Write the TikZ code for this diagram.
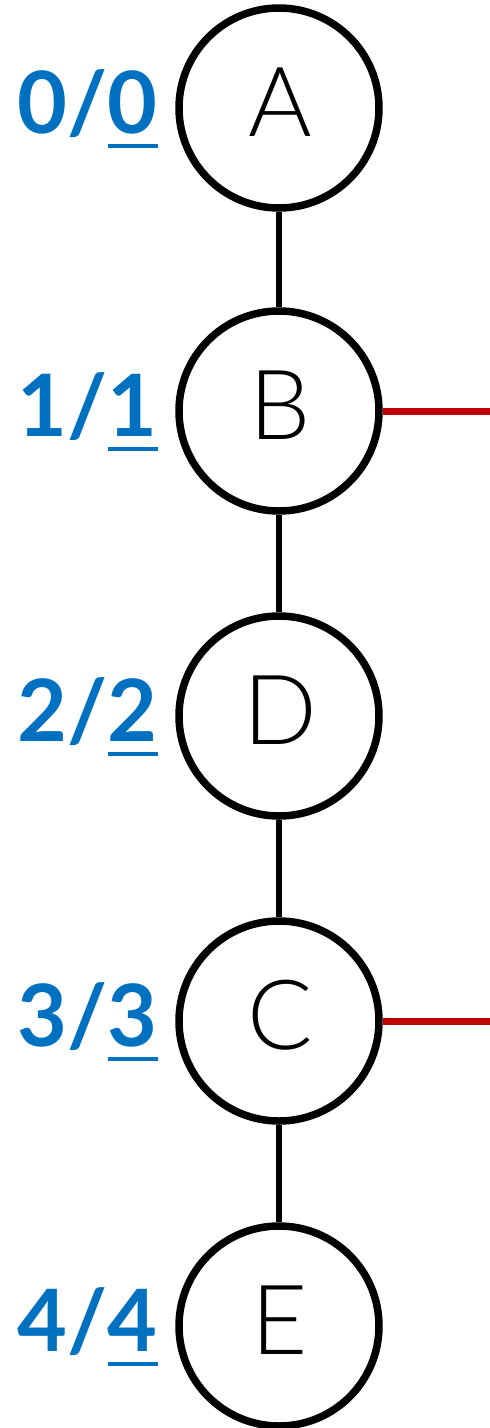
\documentclass[tikz,border=0pt]{standalone}
\usepackage{fontspec}
\setmainfont{Lato}
\newfontfamily\lightfont{Lato Light}
\definecolor{lblblue}{HTML}{0070C0}
\definecolor{edgered}{HTML}{C00000}
\newcommand\myul[1]{\setbox0\hbox{#1}\rlap{\rule[-15pt]{\wd0}{4.5pt}}\box0}
\tikzset{
  vnode/.style={circle, draw=black, line width=7.5pt, minimum size=200pt, inner sep=0pt},
  vlet/.style={anchor=base, font=\lightfont\fontsize{97}{97}\selectfont, inner sep=0pt},
  lbl/.style={anchor=base east, text=lblblue, font=\bfseries\fontsize{86}{86}\selectfont, inner sep=0pt},
  edge/.style={line width=6.5pt, black},
  redge/.style={line width=7pt, edgered},
}
\begin{document}
\begin{tikzpicture}[x=1pt,y=-1pt]
\useasboundingbox (0,0) rectangle (490,1428);
\foreach \n/\y/\k in {A/108/0, B/411/1, D/716/2, C/1021/3, E/1326/4} {
  \node[vnode] (\n) at (279,\y) {};
  \node[vlet] (\n t) at (280,\y+28) {\n};
  \node[lbl] (\n l) at (158,\y+25) {\k/\myul{\k}};
}
\draw[edge] (A) -- (B);
\draw[edge] (B) -- (D);
\draw[edge] (D) -- (C);
\draw[edge] (C) -- (E);
\coordinate (rb) at (490,411);
\coordinate (rc) at (490,1021);
\draw[redge] (B.east) -- (rb);
\draw[redge] (C.east) -- (rc);
\end{tikzpicture}
\end{document}
